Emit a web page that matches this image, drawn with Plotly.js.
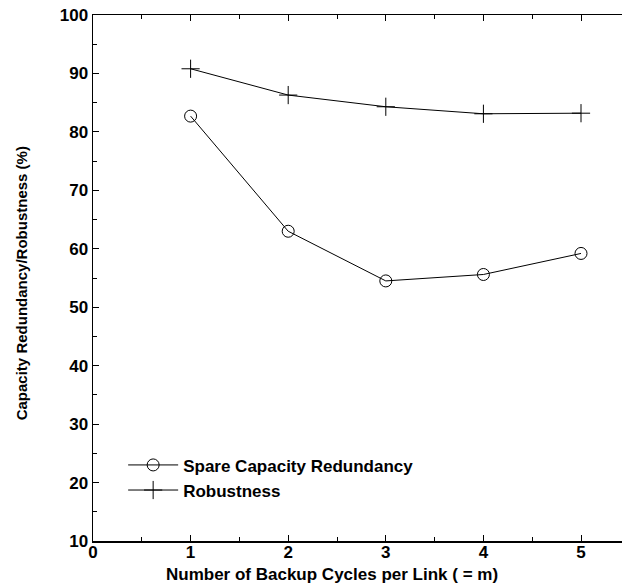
<!DOCTYPE html>
<html>
<head>
<meta charset="utf-8">
<script src="https://cdn.plot.ly/plotly-3.0.1.min.js"></script>
<style>html,body{margin:0;padding:0;background:#fff;}</style>
</head>
<body>
<div id="chart" style="width:622px;height:585px;"></div>
<script>
var cycles = [1, 2, 3, 4, 5];
var spareRedundancy = [82.7, 63.0, 54.5, 55.6, 59.2];
var robustness = [90.8, 86.3, 84.3, 83.1, 83.2];
var seriesNames = ['Spare Capacity Redundancy', 'Robustness'];
var xTitle = 'Number of Backup Cycles per Link ( = m)';
var yTitle = 'Capacity Redundancy/Robustness (%)';

var traces = [
  {
    x: cycles, y: spareRedundancy, name: seriesNames[0],
    mode: 'lines+markers', type: 'scatter',
    line: {color: '#000', width: 1},
    marker: {symbol: 'circle-open', size: 12, color: '#000', line: {width: 1, color: '#000'}}
  },
  {
    x: cycles, y: robustness, name: seriesNames[1],
    mode: 'lines+markers', type: 'scatter',
    line: {color: '#000', width: 1},
    marker: {symbol: 'cross-thin-open', size: 13, color: '#000', line: {width: 1, color: '#000'}}
  }
];

var layout = {
  width: 622, height: 585,
  margin: {l: 93, r: 0, t: 15, b: 44},
  paper_bgcolor: '#fff', plot_bgcolor: '#fff',
  font: {family: 'Liberation Sans, Arial, sans-serif', color: '#000'},
  showlegend: true,
  legend: {
    x: 0.057, y: 0.178, xanchor: 'left', yanchor: 'top',
    bgcolor: 'rgba(0,0,0,0)', borderwidth: 0, itemwidth: 50,
    font: {size: 17, family: 'Liberation Sans, Arial, sans-serif', weight: 'bold'},
    tracegroupgap: 0
  },
  xaxis: {
    range: [0, 5.42], tickvals: [0, 1, 2, 3, 4, 5], ticktext: ['0','1','2','3','4','5'],
    ticks: 'inside', ticklen: 6, tickwidth: 1, tickcolor: '#000',
    minor: {dtick: 0.5, ticks: 'inside', ticklen: 4, tickcolor: '#000'},
    showline: true, linecolor: '#000', linewidth: 1.5, mirror: 'ticks',
    showgrid: false, zeroline: false, ticklabelstandoff: -5,
    tickfont: {size: 17, weight: 'bold'}
  },
  yaxis: {
    range: [10, 100], tickvals: [10,20,30,40,50,60,70,80,90,100],
    ticks: 'inside', ticklen: 6, tickwidth: 1, tickcolor: '#000',
    minor: {dtick: 5, ticks: 'inside', ticklen: 4, tickcolor: '#000'},
    showline: true, linecolor: '#000', linewidth: 1.5, mirror: false,
    showgrid: false, zeroline: false,
    tickfont: {size: 17, weight: 'bold'}
  },
  annotations: [
    {
      text: xTitle, xref: 'paper', yref: 'paper', x: 0.452, y: -0.064,
      xanchor: 'center', yanchor: 'middle', showarrow: false,
      font: {size: 17, weight: 'bold'}
    },
    {
      text: yTitle, xref: 'paper', yref: 'paper', x: -0.136, y: 0.49,
      xanchor: 'center', yanchor: 'middle', showarrow: false, textangle: -90,
      font: {size: 15, family: 'Liberation Sans Narrow, Liberation Sans, Arial', weight: 'bold'}
    }
  ]
};

Plotly.newPlot('chart', traces, layout, {displayModeBar: false, staticPlot: true});
</script>
</body>
</html>
